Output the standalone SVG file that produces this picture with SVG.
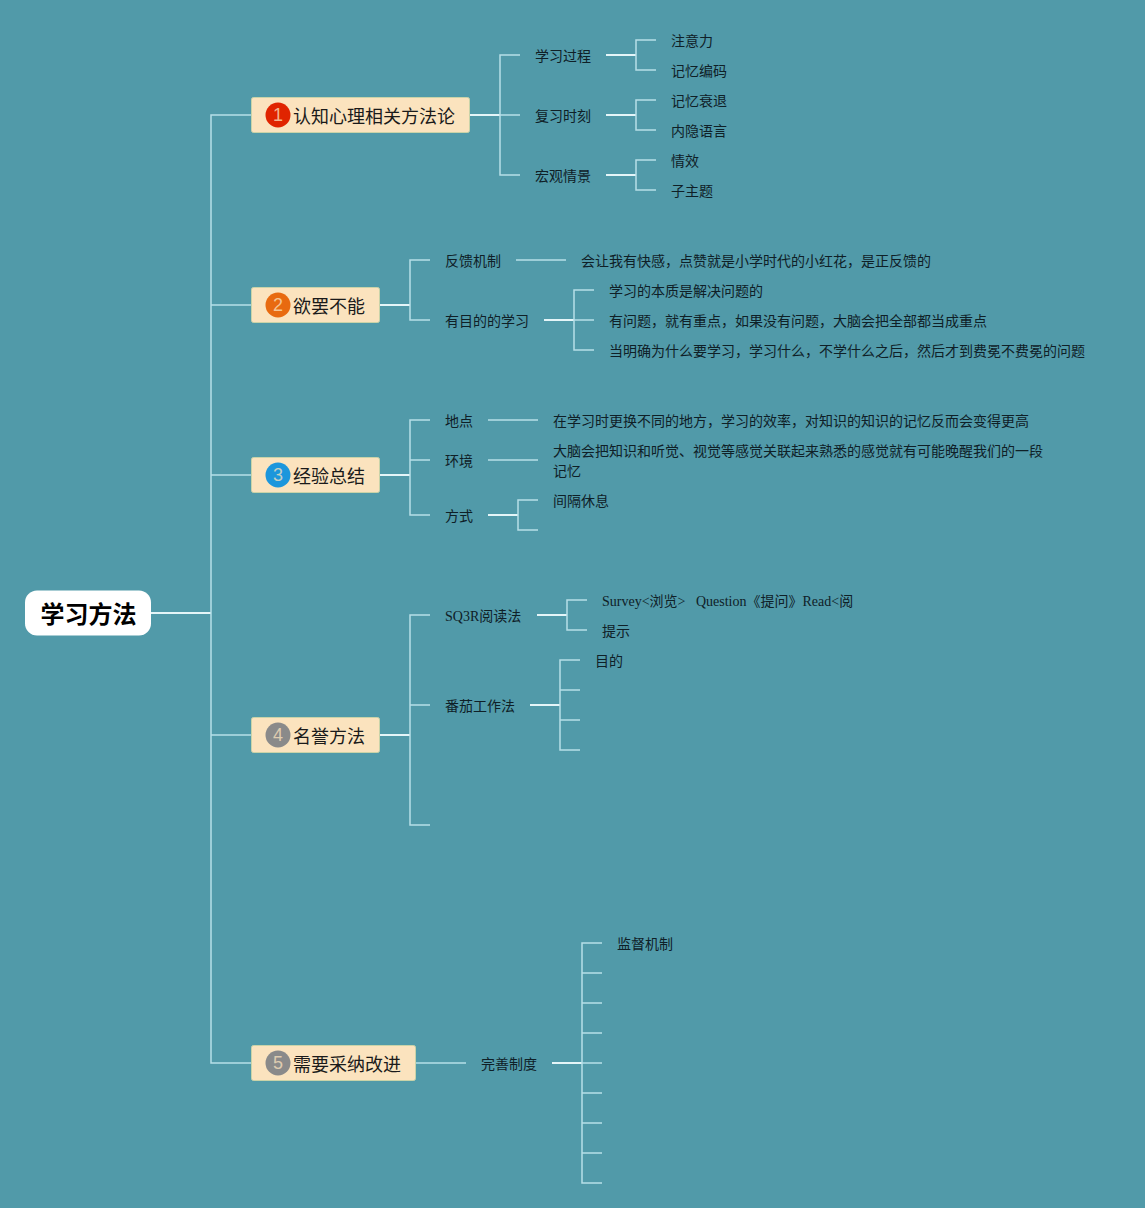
<svg xmlns="http://www.w3.org/2000/svg" width="1145" height="1208" viewBox="0 0 1145 1208">
<style>
text{font-family:"Liberation Serif","Noto Sans CJK SC",serif;font-size:14px;fill:#0f2027}
.t{font-family:"Noto Sans CJK SC","Liberation Sans",sans-serif;font-size:18px;fill:#1a1a1a}
.r{font-family:"Noto Sans CJK SC","Liberation Sans",sans-serif;font-size:24px;font-weight:700;fill:#000}
.n{font-family:"Liberation Sans","Noto Sans CJK SC",sans-serif;font-size:18px;fill:#fbe3be;fill-opacity:.75;text-anchor:middle}
.b{fill:#fbe3be;stroke:#c9d3a8;stroke-width:1}
#connectors path{fill:none;stroke:#b6dfe8;stroke-width:1.5}
#connectors path.s{stroke:#e4f5f8;stroke-width:2}
</style>
<rect width="1145" height="1208" fill="#519aa9"/>
<g id="connectors">
<path class="s" d="M151 613H211"/>
<path d="M251 115H211V1063H251M211 305H251M211 475H251M211 735H251"/>
<path class="s" d="M470 115H500"/>
<path d="M520 55H500V175H520M500 115H520"/>
<path class="s" d="M606 55H636M606 115H636M606 175H636"/>
<path d="M656 40H636V70H656M656 100H636V130H656M656 160H636V190H656"/>
<path class="s" d="M380 305H410"/>
<path d="M430 260H410V320H430M516 260H566"/>
<path class="s" d="M544 320H574"/>
<path d="M594 290H574V350H594M574 320H594"/>
<path class="s" d="M380 475H410"/>
<path d="M430 420H410V515H430M410 460H430M488 420H538M488 460H538"/>
<path class="s" d="M488 515H518"/>
<path d="M538 500H518V530H538"/>
<path class="s" d="M380 735H410"/>
<path d="M430 615H410V825H430M410 705H430"/>
<path class="s" d="M537 615H567M530 705H560"/>
<path d="M587 600H567V630H587M580 660H560V750H580M560 690H580M560 720H580"/>
<path d="M416 1063H466"/>
<path class="s" d="M552 1063H582"/>
<path d="M602 943H582V1183H602M582 973H602M582 1003H602M582 1033H602M582 1063H602M582 1093H602M582 1123H602M582 1153H602"/>
</g>
<g id="root"><rect x="25" y="590.5" width="126" height="45" rx="12" fill="#fff"/><text class="r" x="40.5" y="623">学习方法</text></g>
<g id="topic1"><rect class="b" x="251.5" y="97.5" width="218" height="35" rx="2"/><circle cx="278" cy="115" r="12.5" fill="#e02400"/><text class="n" x="278" y="121">1</text><text class="t" x="293" y="123">认知心理相关方法论</text></g>
<g id="topic2"><rect class="b" x="251.5" y="287.5" width="128" height="35" rx="2"/><circle cx="278" cy="305" r="12.5" fill="#e86a10"/><text class="n" x="278" y="311">2</text><text class="t" x="293" y="313">欲罢不能</text></g>
<g id="topic3"><rect class="b" x="251.5" y="457.5" width="128" height="35" rx="2"/><circle cx="278" cy="475" r="12.5" fill="#1c96dc"/><text class="n" x="278" y="481">3</text><text class="t" x="293" y="483">经验总结</text></g>
<g id="topic4"><rect class="b" x="251.5" y="717.5" width="128" height="35" rx="2"/><circle cx="278" cy="735" r="12.5" fill="#8a8a8a"/><text class="n" x="278" y="741">4</text><text class="t" x="293" y="743">名誉方法</text></g>
<g id="topic5"><rect class="b" x="251.5" y="1045.5" width="164" height="35" rx="2"/><circle cx="278" cy="1063" r="12.5" fill="#8a8a8a"/><text class="n" x="278" y="1069">5</text><text class="t" x="293" y="1071">需要采纳改进</text></g>
<g id="n1-1"><text x="535" y="61">学习过程</text></g>
<g id="n1-2"><text x="535" y="121">复习时刻</text></g>
<g id="n1-3"><text x="535" y="181">宏观情景</text></g>
<g id="n1-1-1"><text x="671" y="46">注意力</text></g>
<g id="n1-1-2"><text x="671" y="76">记忆编码</text></g>
<g id="n1-2-1"><text x="671" y="106">记忆衰退</text></g>
<g id="n1-2-2"><text x="671" y="136">内隐语言</text></g>
<g id="n1-3-1"><text x="671" y="166">情效</text></g>
<g id="n1-3-2"><text x="671" y="196">子主题</text></g>
<g id="n2-1"><text x="445" y="266">反馈机制</text></g>
<g id="n2-1-1"><text x="581" y="266">会让我有快感，点赞就是小学时代的小红花，是正反馈的</text></g>
<g id="n2-2"><text x="445" y="326">有目的的学习</text></g>
<g id="n2-2-1"><text x="609" y="296">学习的本质是解决问题的</text></g>
<g id="n2-2-2"><text x="609" y="326">有问题，就有重点，如果没有问题，大脑会把全部都当成重点</text></g>
<g id="n2-2-3"><text x="609" y="356">当明确为什么要学习，学习什么，不学什么之后，然后才到费冕不费冕的问题</text></g>
<g id="n3-1"><text x="445" y="426">地点</text></g>
<g id="n3-1-1"><text x="553" y="426">在学习时更换不同的地方，学习的效率，对知识的知识的记忆反而会变得更高</text></g>
<g id="n3-2"><text x="445" y="466">环境</text></g>
<g id="n3-2-1"><text x="553" y="456">大脑会把知识和听觉、视觉等感觉关联起来熟悉的感觉就有可能晚醒我们的一段</text><text x="553" y="476">记忆</text></g>
<g id="n3-3"><text x="445" y="521">方式</text></g>
<g id="n3-3-1"><text x="553" y="506">间隔休息</text></g>
<g id="n4-1"><text x="445" y="621">SQ3R阅读法</text></g>
<g id="n4-1-1"><text x="602" y="606" xml:space="preserve">Survey&lt;浏览&gt;   Question《提问》Read&lt;阅</text></g>
<g id="n4-1-2"><text x="602" y="636">提示</text></g>
<g id="n4-2"><text x="445" y="711">番茄工作法</text></g>
<g id="n4-2-1"><text x="595" y="666">目的</text></g>
<g id="n5-1"><text x="481" y="1069">完善制度</text></g>
<g id="n5-1-1"><text x="617" y="949">监督机制</text></g>
</svg>
